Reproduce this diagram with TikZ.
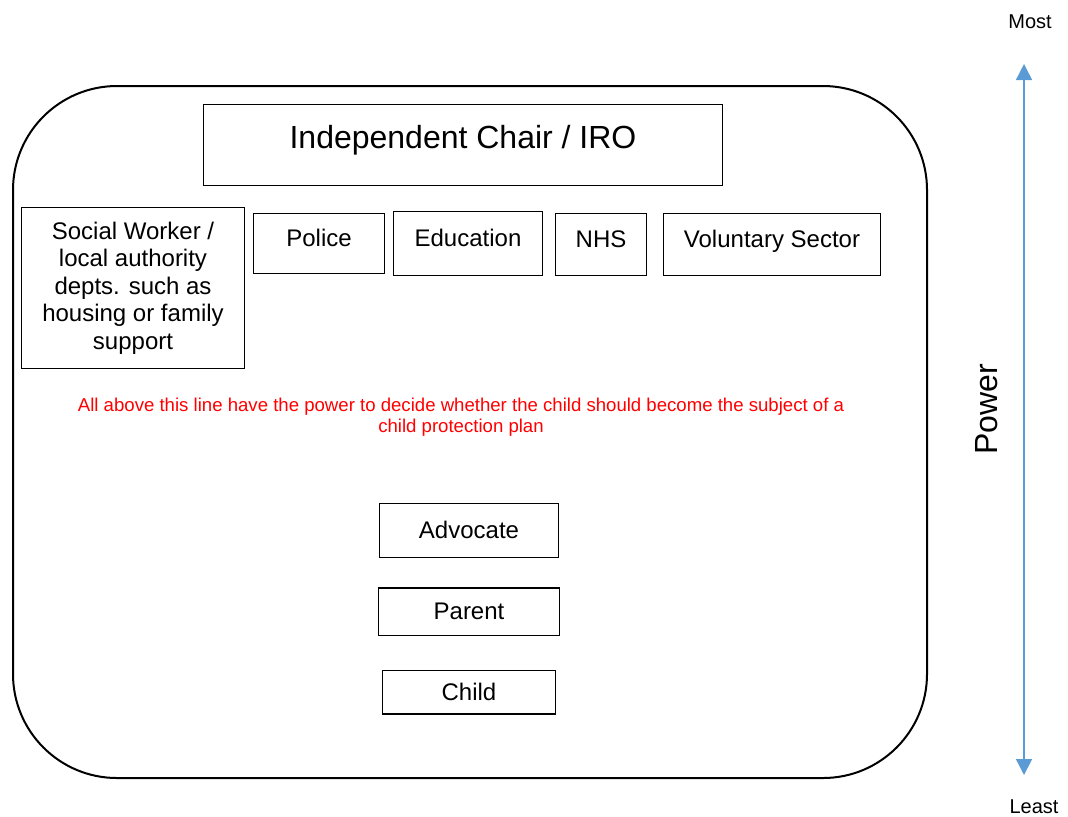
\documentclass[tikz,border=0pt]{standalone}
\usepackage{fontspec}
\setmainfont{Liberation Sans}
\usetikzlibrary{positioning,arrows.meta}

\begin{document}
\begin{tikzpicture}[x=0.5pt,y=-0.5pt]
    \tikzstyle{box}=[draw, line width=0.6pt, align=center, inner sep=0pt, font=\fontsize{12}{13.75}\selectfont]
    \tikzstyle{toprow}=[box, text height=9pt, text depth=6.5pt]
    \tikzstyle{extreme}=[font=\fontsize{10}{12}\selectfont]
    \tikzstyle{power}=[draw={rgb,255:red,91;green,155;blue,213}, line width=0.75pt, {Triangle[width=8pt,length=8pt]}-{Triangle[width=8pt,length=8pt]}]
    \useasboundingbox (0,0) rectangle (1068,816);
    \draw [line width=1pt, rounded corners=52pt] (13,86) rectangle (927,778);

    \node (Chair) [box, minimum width=259.7pt, minimum height=40.7pt, text height=12pt, text depth=9pt, font=\fontsize{16}{19}\selectfont] at (463,145) {Independent Chair / IRO};
    \node (Social) [box, minimum width=111.7pt, minimum height=80.7pt] at (133,288) {Social Worker /\\local authority\\depts. such as\\housing or family\\support};
    \node (Police) [toprow, minimum width=65.7pt, minimum height=30.2pt] at (319,243.5) {Police};
    \node (Education) [toprow, minimum width=74.7pt, minimum height=32.2pt] at (468,243.5) {Education};
    \node (NHS) [toprow, minimum width=45.7pt, minimum height=31.2pt] at (601,244.5) {NHS};
    \node (Voluntary) [toprow, minimum width=108.7pt, minimum height=31.2pt] at (772,244.5) {Voluntary Sector};

    \node (Line) [align=center, text=red, font=\fontsize{9.3}{10.6}\selectfont] at (461,417) {All above this line have the power to decide whether the child should become the subject of a\\child protection plan};

    \node (Advocate) [box, minimum width=89.7pt, minimum height=27.2pt, text depth=1pt] at (469,530.5) {Advocate};
    \node (Parent) [box, minimum width=90.7pt, minimum height=23.7pt, below=14.5pt of Advocate] {Parent};
    \node (Child) [box, minimum width=86.7pt, minimum height=21.7pt, below=17pt of Parent] {Child};

    \node (Most) [extreme] at (1030,22) {Most};
    \node (Least) [extreme] at (1034,807) {Least};
    \coordinate (Top) at (1024,64);
    \coordinate (Bottom) at (1024,775);
    \draw [power] (Top) -- (Bottom);
    \node (Power) [rotate=90, font=\fontsize{16}{19}\selectfont] at (987,409) {Power};

\end{tikzpicture}
\end{document}
